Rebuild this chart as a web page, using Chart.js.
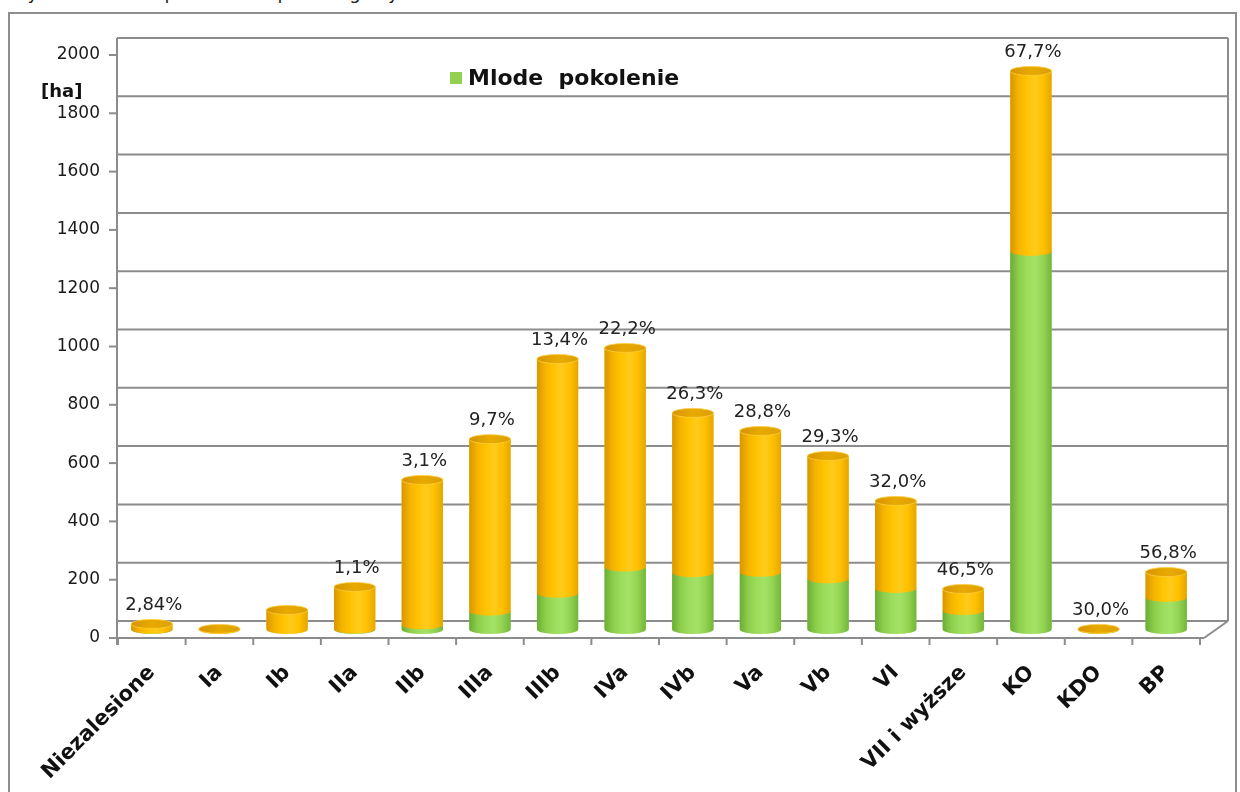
<!DOCTYPE html>
<html><head><meta charset="utf-8">
<script src="https://cdn.jsdelivr.net/npm/chart.js@4.4.0/dist/chart.umd.min.js"></script>
<style>
html,body{margin:0;padding:0;background:#fff;width:1240px;height:792px;overflow:hidden;font-family:"DejaVu Sans",sans-serif;}
#frame{position:absolute;left:8px;top:12px;width:1229px;height:800px;border:2px solid #8e8e8e;box-sizing:border-box;}
#title{position:absolute;left:10px;top:-18px;font-size:18px;color:#222;white-space:nowrap;}
#wrap{position:absolute;left:0;top:0;width:1240px;height:792px;}
#unit{position:absolute;left:41px;top:80px;font-weight:bold;font-size:18px;color:#111;}
#legend{position:absolute;left:450px;top:65px;font-weight:bold;font-size:22px;color:#111;white-space:pre;line-height:26px;}
#legend span.sw{display:inline-block;width:12px;height:12px;background:#92D050;margin-right:6px;vertical-align:1px;}
</style></head>
<body>
<div id="title">Wykres 6. Młode pokolenie w poszczególnych klasach wieku</div>
<div id="frame"></div>
<div id="wrap"><canvas id="c" width="1240" height="792"></canvas></div>
<div id="unit">[ha]</div>
<div id="legend"><span class="sw"></span>Mlode  pokolenie</div>
<script>
const categories = ['Niezalesione','Ia','Ib','IIa','IIb','IIIa','IIIb','IVa','IVb','Va','Vb','VI','VII i wyższe','KO','KDO','BP'];
const mlodePokolenie = [0.5, 0, 0, 1.6, 16, 63, 124, 214, 195, 196, 174, 141, 65, 1297, 0.6, 110];
const pozostale = [18.5, 2, 67, 144.4, 497, 590, 804, 752, 548, 485, 421, 300, 74, 619, 1.4, 87];
const percentLabels = ['2,84%','','','1,1%','3,1%','9,7%','13,4%','22,2%','26,3%','28,8%','29,3%','32,0%','46,5%','67,7%','30,0%','56,8%'];
const yTicks = [0,200,400,600,800,1000,1200,1400,1600,1800,2000];

const HALF = 8.5;      // half of 3D depth (px)
const RY = 4.5;        // ellipse radius of cylinder caps
const RIGHT_EXT = 28;  // back wall extends right
const GRID = '#8c8c8c';

function line(ctx,x1,y1,x2,y2){ctx.beginPath();ctx.moveTo(x1,y1);ctx.lineTo(x2,y2);ctx.stroke();}

const wallPlugin = {
  id:'wall',
  beforeDatasetsDraw(chart){
    const ctx=chart.ctx, ys=chart.scales.y, xs=chart.scales.x, ca=chart.chartArea;
    ctx.save();
    ctx.strokeStyle=GRID; ctx.lineWidth=2;
    const L=ca.left-1;
    yTicks.forEach(v=>{const py=ys.getPixelForValue(v)-HALF; line(ctx,L,py,ca.right+RIGHT_EXT,py);});
    const yTop=ys.getPixelForValue(yTicks[yTicks.length-1])-HALF;
    const y0=ys.getPixelForValue(0);
    line(ctx,L,yTop,L,y0+HALF+7);
    line(ctx,ca.right+RIGHT_EXT,yTop,ca.right+RIGHT_EXT,y0-HALF);
    line(ctx,L,y0+HALF,ca.right+4,y0+HALF);
    line(ctx,ca.right+4,y0+HALF,ca.right+RIGHT_EXT,y0-HALF);
    yTicks.forEach(v=>{const py=ys.getPixelForValue(v)+HALF; line(ctx,L-8,py,L,py);});
    const step=xs.getPixelForValue(1)-xs.getPixelForValue(0);
    for(let k=0;k<=categories.length;k++){
      const px=xs.getPixelForValue(0)-step/2+k*step;
      line(ctx,px,y0+HALF,px,y0+HALF+7);
    }
    ctx.restore();
  },
  afterDatasetsDraw(chart){
    const ctx=chart.ctx;
    const m0=chart.getDatasetMeta(0).data, m1=chart.getDatasetMeta(1).data;
    ctx.save();
    function body(xc,rx,yT,yB,c){
      const g=ctx.createLinearGradient(xc-rx,0,xc+rx,0);
      c.forEach((col,i)=>g.addColorStop(i/(c.length-1),col));
      ctx.beginPath();
      ctx.moveTo(xc-rx,yT); ctx.lineTo(xc-rx,yB);
      ctx.ellipse(xc,yB,rx,RY,0,Math.PI,0,true);
      ctx.lineTo(xc+rx,yT); ctx.closePath();
      ctx.fillStyle=g; ctx.fill();
    }
    const green=['#6aad33','#8ccd4b','#9cdc5c','#a4e266','#93d352','#74b63a'];
    const orange=['#d99600','#f5b400','#ffc300','#ffcb1c','#ffc000','#e5a600'];
    for(let i=0;i<categories.length;i++){
      const a=m0[i].getProps(['x','y','base','width'],true);
      const b=m1[i].getProps(['x','y','base','width'],true);
      const rx=a.width/2;
      if(mlodePokolenie[i]>0) body(a.x,rx,a.y,a.base,green);
      body(b.x,rx,b.y,b.base,orange);
      const g=ctx.createLinearGradient(b.x-rx,0,b.x+rx,0);
      g.addColorStop(0,'#d69400');g.addColorStop(0.5,'#e8aa00');g.addColorStop(1,'#dca000');
      ctx.beginPath(); ctx.ellipse(b.x,b.y,rx,RY,0,0,Math.PI*2); ctx.fillStyle=g; ctx.fill();
      ctx.strokeStyle='rgba(255,205,60,0.8)'; ctx.lineWidth=1; ctx.stroke();
      if(percentLabels[i]){
        ctx.fillStyle='#222'; ctx.font='18px "DejaVu Sans"'; ctx.textAlign='center'; ctx.textBaseline='middle';
        ctx.fillText(percentLabels[i], b.x+2, b.y-19);
      }
    }
    ctx.restore();
  }
};

new Chart(document.getElementById('c'),{
  type:'bar',
  data:{labels:categories,datasets:[
    {label:'Mlode pokolenie',data:mlodePokolenie,backgroundColor:'#92D050',borderWidth:0},
    {label:'Pozostałe',data:pozostale,backgroundColor:'#FFC000',borderWidth:0}
  ]},
  options:{
    responsive:false,animation:false,
    layout:{padding:{top:46.5,right:40,left:0,bottom:0}},
    plugins:{legend:{display:false},tooltip:{enabled:false},title:{display:false}},
    datasets:{bar:{barPercentage:0.61,categoryPercentage:1}},
    scales:{
      x:{stacked:true,offset:true,
        grid:{display:false,drawTicks:false},border:{display:false},
        ticks:{autoSkip:false,maxRotation:45,minRotation:45,padding:31,color:'#111',font:{family:'DejaVu Sans',weight:'bold',size:21}},
        afterFit(s){s.height=162.5;}
      },
      y:{stacked:true,min:0,max:2000,
        afterBuildTicks(s){s.ticks=yTicks.map(v=>({value:v}));},
        grid:{display:false,drawTicks:false},border:{display:false},
        ticks:{labelOffset:HALF,padding:18,color:'#1a1a1a',font:{family:'DejaVu Sans',size:17},callback:(v)=>String(v)},
        afterFit(s){s.width=118;}
      }
    }
  },
  plugins:[wallPlugin]
});
</script>
</body></html>
